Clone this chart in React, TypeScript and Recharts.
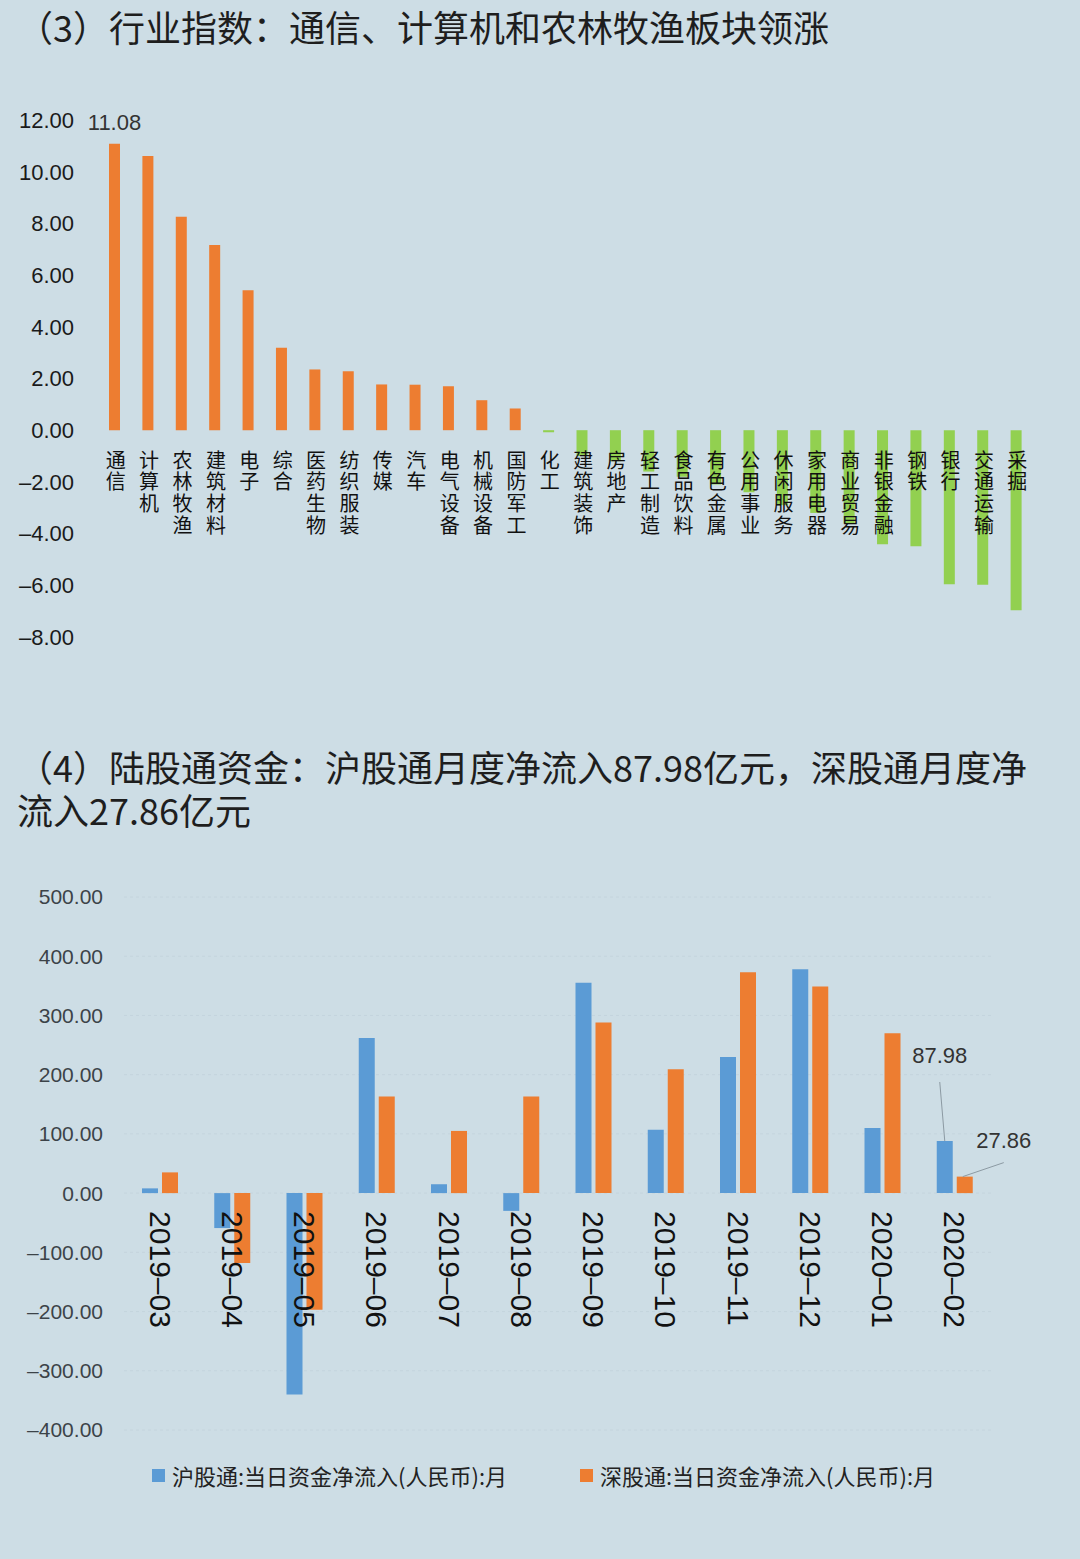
import { BarChart, Bar, XAxis, YAxis, CartesianGrid, Cell, LabelList } from 'recharts';

const industries = [
  '通信', '计算机', '农林牧渔', '建筑材料', '电子', '综合', '医药生物', '纺织服装', '传媒', '汽车',
  '电气设备', '机械设备', '国防军工', '化工', '建筑装饰', '房地产', '轻工制造', '食品饮料', '有色金属',
  '公用事业', '休闲服务', '家用电器', '商业贸易', '非银金融', '钢铁', '银行', '交通运输', '采掘',
];
const industryChange = [
  11.08, 10.61, 8.26, 7.16, 5.41, 3.19, 2.35, 2.28, 1.77, 1.76,
  1.7, 1.16, 0.84, -0.08, -1.0, -1.2, -1.6, -1.8, -2.1,
  -2.4, -2.9, -3.2, -3.6, -4.41, -4.49, -5.96, -5.98, -6.97,
];
const industryTicks = [-8, -6, -4, -2, 0, 2, 4, 6, 8, 10, 12];

const months = [
  '2019-03', '2019-04', '2019-05', '2019-06', '2019-07', '2019-08',
  '2019-09', '2019-10', '2019-11', '2019-12', '2020-01', '2020-02',
];
const shanghaiFlow = [8, -59, -340, 262, 15, -30, 355, 107, 230, 378, 110, 87.98];
const shenzhenFlow = [35, -118, -197, 163, 105, 163, 288, 209, 373, 349, 270, 27.86];
const flowTicks = [-400, -300, -200, -100, 0, 100, 200, 300, 400, 500];

const BG = '#cddde5';
const ORANGE = '#ed7d31';
const GREEN = '#92d050';
const BLUE = '#5b9bd5';
const NUM_FONT = '"Liberation Sans", Arial, sans-serif';
const CJK_FONT = '"Noto Sans CJK SC", "Noto Sans", sans-serif';

const fmt = (v: number) => (v < 0 ? '–' + Math.abs(v).toFixed(2) : v.toFixed(2));

const industryData = industries.map((name, i) => ({ name, value: industryChange[i] }));
const flowData = months.map((month, i) => ({ month, sh: shanghaiFlow[i], sz: shenzhenFlow[i] }));

// top chart geometry
const T_TOP = 120;
const T_PLOT_H = 517;
const T_ZERO = T_TOP + (T_PLOT_H * 12) / 20;

// bottom chart geometry
const B_TOP = 37;
const B_PLOT_H = 533;
const B_ZERO = B_TOP + (B_PLOT_H * 500) / 900;

// vertical label, written top to bottom
function IndustryTick({ x, payload }: any) {
  return (
    <text
      x={x + 1}
      y={T_ZERO + 20}
      textAnchor="start"
      fontSize={20}
      fontFamily={CJK_FONT}
      fill="#111"
      style={{ writingMode: 'vertical-rl', letterSpacing: 1.7 }}
    >
      {payload.value}
    </text>
  );
}

function MonthTick({ x, payload }: any) {
  const y = B_ZERO + 18;
  return (
    <text
      x={x}
      y={y}
      transform={`rotate(90, ${x}, ${y})`}
      textAnchor="start"
      dominantBaseline="central"
      fontSize={30}
      fontFamily={NUM_FONT}
      fill="#111"
    >
      {String(payload.value).replace('-', '–')}
    </text>
  );
}

function TopValueLabel(props: any) {
  const { x, y, width, index, value } = props;
  if (index !== 0) return null;
  return (
    <text x={x + width / 2} y={y - 14} textAnchor="middle" fontSize={22} fontFamily={NUM_FONT} fill="#333">
      {Number(value).toFixed(2)}
    </text>
  );
}

function ShLabel(props: any) {
  const { x, y, width, index, value } = props;
  if (index !== months.length - 1) return null;
  const cx = x + width / 2;
  return (
    <g>
      <line x1={cx} y1={y} x2={cx - 5} y2={y - 59} stroke="#8c9aa3" strokeWidth={1} />
      <text x={cx - 5} y={y - 78} textAnchor="middle" fontSize={22} fontFamily={NUM_FONT} fill="#333">
        {Number(value).toFixed(2)}
      </text>
    </g>
  );
}

function SzLabel(props: any) {
  const { x, y, width, index, value } = props;
  if (index !== months.length - 1) return null;
  const cx = x + width / 2;
  return (
    <g>
      <line x1={cx - 2} y1={y} x2={cx + 39} y2={y - 14} stroke="#8c9aa3" strokeWidth={1} />
      <text x={cx + 39} y={y - 29} textAnchor="middle" fontSize={22} fontFamily={NUM_FONT} fill="#333">
        {Number(value).toFixed(2)}
      </text>
    </g>
  );
}

const titleStyle: React.CSSProperties = {
  position: 'absolute',
  left: 17,
  fontFamily: CJK_FONT,
  fontSize: 36,
  fontWeight: 400,
  color: '#1e1e1e',
  lineHeight: '43px',
  whiteSpace: 'nowrap',
};

export default function App() {
  return (
    <div style={{ position: 'absolute', left: 0, top: 0, width: 1080, height: 1559, background: BG, overflow: 'hidden' }}>
      <div style={{ ...titleStyle, top: 5 }}>（3）行业指数：通信、计算机和农林牧渔板块领涨</div>

      <div style={{ position: 'absolute', left: 0, top: 0 }}>
        <BarChart width={1080} height={700} data={industryData} margin={{ top: T_TOP, right: 47, bottom: 33, left: 0 }}>
          <XAxis dataKey="name" axisLine={false} tickLine={false} interval={0} height={30} tick={<IndustryTick />} />
          <YAxis
            domain={[-8, 12]}
            ticks={industryTicks}
            width={98}
            axisLine={false}
            tickLine={false}
            tickSize={0}
            tickMargin={24}
            tickFormatter={fmt}
            tick={{ fill: '#1a1a1a', fontSize: 22, fontFamily: NUM_FONT }}
          />
          <Bar dataKey="value" barSize={11} isAnimationActive={false}>
            {industryData.map((d, i) => (
              <Cell key={i} fill={d.value >= 0 ? ORANGE : GREEN} />
            ))}
            <LabelList dataKey="value" content={<TopValueLabel />} />
          </Bar>
        </BarChart>
      </div>

      <div style={{ ...titleStyle, top: 745 }}>
        （4）陆股通资金：沪股通月度净流入87.98亿元，深股通月度净
        <br />
        流入27.86亿元
      </div>

      <div style={{ position: 'absolute', left: 0, top: 860 }}>
        <BarChart
          width={1080}
          height={600}
          data={flowData}
          margin={{ top: B_TOP, right: 89, bottom: 0, left: 0 }}
          barGap={4}
        >
          <CartesianGrid vertical={false} stroke="#c4d4dd" strokeDasharray="3 3" />
          <XAxis dataKey="month" axisLine={false} tickLine={false} interval={0} height={30} tick={<MonthTick />} />
          <YAxis
            domain={[-400, 500]}
            ticks={flowTicks}
            width={124}
            axisLine={false}
            tickLine={false}
            tickSize={0}
            tickMargin={21}
            tickFormatter={fmt}
            tick={{ fill: '#3c4348', fontSize: 21, fontFamily: NUM_FONT }}
          />
          <Bar dataKey="sh" name="沪股通:当日资金净流入(人民币):月" fill={BLUE} barSize={16} isAnimationActive={false}>
            <LabelList dataKey="sh" content={<ShLabel />} />
          </Bar>
          <Bar dataKey="sz" name="深股通:当日资金净流入(人民币):月" fill={ORANGE} barSize={16} isAnimationActive={false}>
            <LabelList dataKey="sz" content={<SzLabel />} />
          </Bar>
        </BarChart>
      </div>

      <div
        style={{
          position: 'absolute',
          top: 1460,
          left: 152,
          display: 'flex',
          alignItems: 'center',
          fontFamily: CJK_FONT,
          fontSize: 22,
          color: '#222',
          lineHeight: '30px',
        }}
      >
        <span style={{ width: 13, height: 13, background: BLUE, display: 'inline-block', marginRight: 7 }} />
        <span style={{ width: 408 }}>沪股通:当日资金净流入(人民币):月</span>
        <span style={{ width: 13, height: 13, background: ORANGE, display: 'inline-block', marginRight: 7 }} />
        <span>深股通:当日资金净流入(人民币):月</span>
      </div>
    </div>
  );
}
